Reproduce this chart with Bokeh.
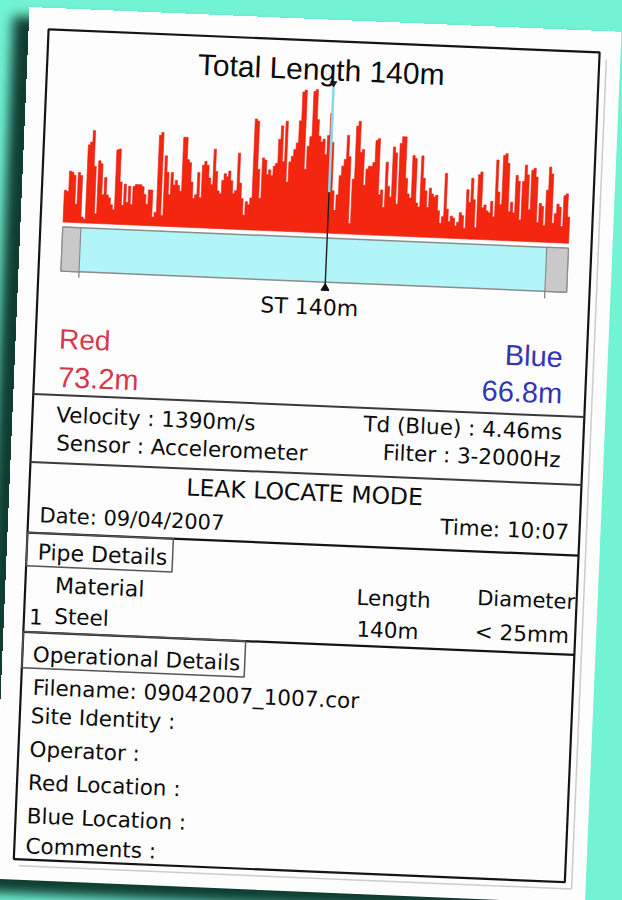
import numpy as np
from bokeh.plotting import figure
from bokeh.models import Range1d, InlineStyleSheet
from bokeh.embed import file_html
from bokeh.resources import INLINE
from bokeh.core.properties import value

# ---------------- data ----------------
pipe_length_m = 140
red_distance_m = 73.2
blue_distance_m = 66.8
velocity = "1390m/s"
sensor = "Accelerometer"
td_blue = "4.46ms"
filter_band = "3-2000Hz"
date_str = "09/04/2007"
time_str = "10:07"
material = "Steel"
diameter = "< 25mm"
filename = "09042007_1007.cor"

# correlation levels along the pipe (red end -> blue end)
levels = [
    33, 32, 53, 52, 49, 19, 52, 49, 6, 4,
    81, 84, 96, 59, 10, 65, 62, 30, 48, 30,
    27, 20, 15, 77, 78, 44, 20, 42, 23, 40,
    21, 40, 42, 42, 42, 40, 32, 22, 37, 37,
    9, 14, 94, 97, 11, 73, 56, 33, 56, 43,
    48, 43, 37, 93, 93, 70, 67, 47, 30, 34,
    57, 31, 65, 69, 65, 52, 45, 82, 59, 39,
    36, 50, 57, 54, 60, 50, 37, 40, 79, 48,
    32, 15, 29, 26, 33, 115, 113, 63, 33, 75,
    73, 58, 63, 57, 67, 70, 95, 109, 72, 114,
    51, 72, 78, 85, 92, 115, 145, 147, 65, 89,
    99, 146, 148, 117, 100, 94, 97, 81, 101, 124, 94,
    44, 24, 40, 60, 70, 77, 102, 80, 11, 57,
    112, 117, 85, 88, 51, 68, 71, 71, 75, 98,
    100, 42, 47, 29, 76, 51, 40, 92, 86, 33,
    96, 103, 103, 60, 44, 40, 84, 81, 35, 31,
    84, 61, 48, 31, 51, 45, 42, 44, 28, 15,
    22, 67, 30, 17, 23, 21, 13, 17, 27, 24,
    11, 51, 38, 63, 41, 12, 67, 70, 33, 36,
    30, 28, 40, 24, 83, 50, 37, 88, 90, 80,
    30, 40, 29, 68, 62, 22, 62, 79, 69, 33,
    74, 76, 67, 20, 40, 37, 17, 54, 78, 71,
    20, 30, 40, 37, 17, 49, 51, 27,
]

# ---------------- figure (the printed sheet) ----------------
W, H = 592, 872
TEAL = "#72f4d4"
sheet_css = InlineStyleSheet(css=(
    ":host { overflow: visible !important; }\n"
    ".bk-Canvas { transform: translate(11px, 19px) rotate(2.4deg); "
    "box-shadow: -14px 12px 12px 2px rgba(6,40,32,0.9), 0 0 0 1200px " + TEAL + "; "
    "overflow: visible; }"
))
p = figure(width=W, height=H, x_range=Range1d(0, W), y_range=Range1d(H, 0),
           output_backend="svg", toolbar_location=None,
           x_axis_type=None, y_axis_type=None, min_border=0,
           outline_line_color=None,
           background_fill_color="#fdfdfd", border_fill_color="#fdfdfd",
           stylesheets=[sheet_css])

# scales for the correlation plot
PX0, PX1 = 42, 548          # pipe ends on the sheet
k = (PX1 - PX0) / pipe_length_m
p.extra_x_ranges = {"dist": Range1d(-PX0 / k, (W - PX0) / k)}
BASE, SCALE = 213, 0.966    # baseline and px per level unit
p.extra_y_ranges = {"amp": Range1d(-(H - BASE) / SCALE, BASE / SCALE)}

# correlation trace as a filled step area
n = len(levels)
step = pipe_length_m / n
edges = np.arange(n + 1) * step
lv = np.asarray(levels, dtype=float)
xs = np.concatenate([[edges[0]], np.repeat(edges[1:-1], 2), [edges[-1]], [edges[-1], edges[0]]])
ys = np.concatenate([np.repeat(lv, 2), [0, 0]])
p.patch(x=xs, y=ys, x_range_name="dist", y_range_name="amp",
        fill_color="#f5260f", line_color="#e01e10", line_width=0.6)

# pipe bar
p.quad(left=0, right=pipe_length_m, top=218, bottom=262, x_range_name="dist",
       fill_color="#b2f5f8", line_color="#8c8c8c", line_width=1.5)
p.quad(left=[0, pipe_length_m - 6], right=[5, pipe_length_m], top=218, bottom=262,
       x_range_name="dist", fill_color="#c9c9c9", line_color="#8c8c8c", line_width=1.2)
p.segment(x0=[5, pipe_length_m - 6], x1=[5, pipe_length_m - 6], y0=262, y1=[268, 269],
          x_range_name="dist", line_color="#777777", line_width=1.2)

# leak cursor
p.segment(x0=red_distance_m, x1=red_distance_m, y0=62, y1=172, x_range_name="dist",
          line_color="#7fdbe9", line_width=2.5)
p.segment(x0=red_distance_m, x1=red_distance_m, y0=172, y1=268, x_range_name="dist",
          line_color="#1e1e1e", line_width=1.4)
p.scatter(x=[red_distance_m], y=[268], marker="triangle", size=8, x_range_name="dist",
          fill_color="#111111", line_color="#111111")
p.scatter(x=[red_distance_m], y=[63], marker="inverted_triangle", size=6, x_range_name="dist",
          fill_color="#222222", line_color="#222222")

# frame, dividers, tabs
p.segment(x0=[578, 25], x1=[578, 578], y0=[28, 858], y1=[858, 858],
          line_color="#cccccc", line_width=1.5)
p.quad(left=19.5, right=571, top=21, bottom=851.5, fill_color=None,
       line_color="#141414", line_width=2.2)
p.segment(x0=19.5, x1=571, y0=[386, 454], y1=[386, 454], line_color="#3a3a3a", line_width=2)
p.segment(x0=19.5, x1=571, y0=[524.7, 624], y1=[524.7, 624], line_color="#141414", line_width=2.2)
p.quad(left=19.5, right=[165.5, 242], top=[524.7, 624], bottom=[558, 660],
       fill_color=None, line_color="#555555", line_width=1.5)

# ---------------- texts ----------------
BODY = "DejaVu Sans"
HEAD = "Liberation Sans"
INK = "#0c0c0c"
RED = "#d6384a"
BLUE = "#3434b4"
TEXT_DY = -7

def txt(s, x, y, align="left", font=BODY, size="21.5px", color=INK):
    p.text(x=[x], y=[y + TEXT_DY], text=[s], text_align=align, text_baseline="alphabetic",
           text_font=value(font), text_font_size=value(size), text_color=color)

txt(f"Total Length {pipe_length_m}m", 293.6, 56.7, "center", HEAD, "30px")
txt(f"ST {pipe_length_m}m", 291.6, 294.4, "center", BODY, "22px")
txt("Red", 43, 337, "left", HEAD, "28px", RED)
txt(f"{red_distance_m}m", 43.5, 375, "left", HEAD, "29px", RED)
txt("Blue", 547, 334, "right", HEAD, "29px", BLUE)
txt(f"{blue_distance_m}m", 548, 370.5, "right", HEAD, "29px", BLUE)

txt(f"Velocity : {velocity}", 43.3, 412.7)
txt(f"Sensor : {sensor}", 44.5, 440.7)
txt(f"Td (Blue) : {td_blue}", 549.5, 408.9, "right")
txt(f"Filter : {filter_band}", 549, 436.6, "right")

txt("LEAK LOCATE MODE", 294.7, 480.1, "center", BODY, "23.5px")
txt(f"Date: {date_str}", 30.8, 514, size="21px")
txt(f"Time: {time_str}", 560.4, 508.6, "right")

txt("Pipe Details", 30.5, 550.8, size="22px")
txt("Material", 49.2, 583.4, size="22px")
txt("1", 24.6, 615.2)
txt(material, 49.8, 614.1)
txt("Length", 350.9, 582.5)
txt(f"{pipe_length_m}m", 352.2, 614.2)
txt("Diameter", 569.6, 578.3, "right", size="21px")
txt(diameter, 564.7, 611.9, "right")

txt("Operational Details", 29.9, 653)
txt(f"Filename: {filename}", 31.2, 686)
txt("Site Identity :", 30.5, 714.4)
txt("Operator :", 30.7, 747.9)
txt("Red Location :", 30.5, 781.2)
txt("Blue Location :", 30.7, 814.6)
txt("Comments :", 30.7, 844.6)

open("out.html", "w").write(file_html(p, INLINE))
